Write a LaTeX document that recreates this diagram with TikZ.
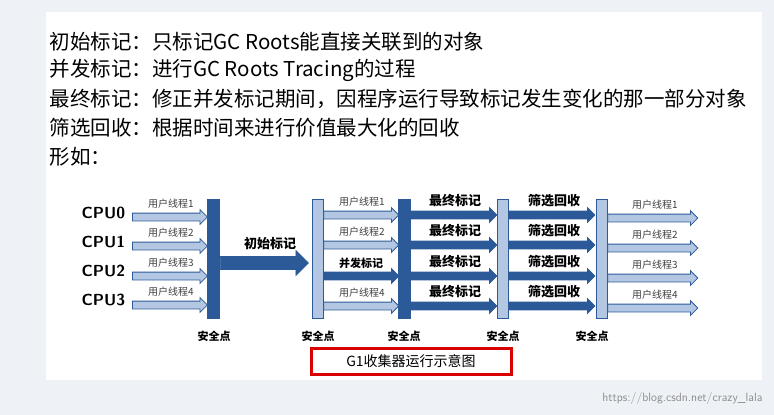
\documentclass[tikz,border=0pt]{standalone}
\usepackage{fontspec}
\setmainfont{Noto Sans CJK SC}
\usetikzlibrary{shapes.arrows}
\definecolor{dk}{HTML}{2C5A98}
\definecolor{lt}{HTML}{B3C7E3}
\definecolor{bg}{HTML}{EEF2F6}
\tikzset{
 arr/.style={single arrow,inner xsep=0pt,inner ysep=3.5pt,single arrow head extend=3.5pt,anchor=west,draw=dk,line width=0.8pt,text width=0pt,font=\fontsize{1}{1}\selectfont},
 larr/.style={arr,fill=lt},
 darr/.style={arr,fill=dk},
 dbar/.style={draw=dk,fill=dk,minimum width=12pt,minimum height=119pt,inner sep=0pt,line width=0.8pt},
 lbar/.style={draw=dk,fill=lt,minimum width=11pt,minimum height=119pt,inner sep=0pt,line width=0.8pt},
 tl/.style={font=\fontsize{10}{10}\selectfont,text=black!75},
 bl/.style={font=\bfseries\fontsize{13}{13}\selectfont},
 cpu/.style={font=\sffamily\bfseries\fontsize{16}{16}\selectfont,anchor=west},
 sp/.style={font=\bfseries\fontsize{11}{11}\selectfont},
 line/.style={font=\fontsize{20.5}{20.5}\selectfont,anchor=west}
}
\begin{document}
\begin{tikzpicture}[x=1pt,y=-1pt]
\useasboundingbox (0,0) rectangle (774,415);
\fill[bg] (0,0) rectangle (774,415);
\fill[white] (46,12) rectangle (762,380);
\node[line] (l1) at (46,42) {初始标记：只标记GC Roots能直接关联到的对象};
\node[line] (l2) at (46,70) {并发标记：进行GC Roots Tracing的过程};
\node[line] (l3) at (46,99) {最终标记：修正并发标记期间，因程序运行导致标记发生变化的那一部分对象};
\node[line] (l4) at (46,128) {筛选回收：根据时间来进行价值最大化的回收};
\node[line] (l5) at (46,157) {形如：};
\fill[white] (75,188) rectangle (700,372);
% CPUs
\foreach \i/\y in {0/213,1/242,2/271,3/300}{\node[cpu] (cpu\i) at (78,\y) {CPU\i};}
% bars
\node[dbar] (b1) at (213.5,258.5) {};
\node[lbar] (b2) at (317.5,258.5) {};
\node[dbar] (b3) at (404,258.5) {};
\node[lbar] (b4) at (502.5,258.5) {};
\node[lbar] (b5) at (601.5,258.5) {};
% stage 1
\foreach \n/\y in {1/217,2/246,3/276,4/305}{
 \node[larr,minimum height=75pt] (a\n) at (132,\y) {};
 \node[tl] (ta\n) at (171,\y-13) {用户线程\n};
}
\node[arr,fill=dk,inner ysep=6pt,single arrow head extend=6pt,minimum height=88pt] (big) at (b1.east|-0,263) {};
\node[bl] (tbig) at (270,244) {初始标记};
% stage 2
\foreach \n/\y in {1/215,2/245,4/306}{
 \node[larr,minimum height=75pt] (c\n) at (b2.east|-0,\y) {};
 \node[tl] (tc\n) at (362,\y-13) {用户线程\n};
}
\node[darr,minimum height=75pt] (c3) at (b2.east|-0,276) {};
\node[bl,font=\bfseries\fontsize{11}{11}\selectfont] (tc3) at (361,263) {并发标记};
% stage 3
\foreach \n/\y in {1/215,2/245,3/276,4/306}{
 \node[darr,minimum height=86pt] (d\n) at (b3.east|-0,\y) {};
 \node[bl] (td\n) at (455,\y-14) {最终标记};
 \node[darr,minimum height=86pt] (e\n) at (b4.east|-0,\y) {};
 \node[bl] (te\n) at (554,\y-14) {筛选回收};
}
% stage 5
\foreach \n/\y in {1/218,2/248,3/278,4/308}{
 \node[larr,minimum height=90pt] (f\n) at (b5.east|-0,\y) {};
 \node[tl] (tf\n) at (655,\y-13) {用户线程\n};
}
% safe points
\foreach \b/\x in {b1/214,b2/318,b3/404,b4/503,b5/592}{\node[sp] (s\b) at (\x,336) {安全点};}
\node[draw=red!85!black,line width=3pt,minimum width=200pt,minimum height=26pt,font=\fontsize{14}{14}\selectfont] (cap) at (411,361.5) {G1收集器运行示意图};
\node[anchor=east,text=black!45,font=\sffamily\fontsize{12}{12}\selectfont] (wm) at (766,398) {https://blog.csdn.net/crazy\_lala};
\end{tikzpicture}
\end{document}
